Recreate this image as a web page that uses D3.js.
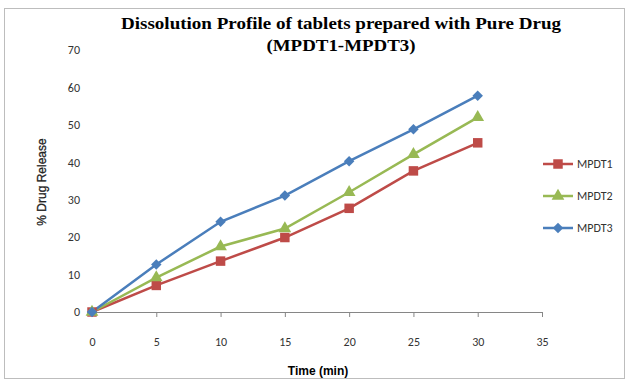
<!DOCTYPE html>
<html><head><meta charset="utf-8">
<script src="https://cdn.jsdelivr.net/npm/d3@7"></script>
<style>body{margin:0;background:#fff}svg{display:block}</style>
</head><body>
<svg id="c" width="629" height="384"></svg>
<script>
const times = [0, 5, 10, 15, 20, 25, 30];
const mpdt1 = [0, 7.1, 13.6, 19.9, 27.7, 37.7, 45.2];
const mpdt2 = [0, 9.2, 17.5, 22.3, 32.0, 42.1, 52.0];
const mpdt3 = [0, 12.7, 24.1, 31.1, 40.3, 48.8, 57.8];
const seriesNames = ["MPDT1", "MPDT2", "MPDT3"];
const seriesColors = ["#BE4B48", "#98B954", "#4A7EBB"];
const xTicks = [0, 5, 10, 15, 20, 25, 30, 35];
const yTicks = [0, 10, 20, 30, 40, 50, 60, 70];
const titleLines = ["Dissolution Profile of tablets prepared with Pure Drug", "(MPDT1-MPDT3)"];

const svg = d3.select("#c");
svg.append("rect").attr("x", 4.5).attr("y", 8.5).attr("width", 620).attr("height", 370)
  .attr("fill", "#fff").attr("stroke", "#bdbdbd");

const x = d3.scaleLinear().domain([0, 35]).range([92, 542]);
const y = d3.scaleLinear().domain([0, 70]).range([312, 50]);

// title
svg.selectAll("text.title").data(titleLines).enter().append("text")
  .attr("x", 341).attr("y", (d, i) => 29 + i * 22)
  .attr("text-anchor", "middle")
  .attr("font-family", "Liberation Serif, Times New Roman, serif")
  .attr("font-weight", "bold").attr("font-size", 17)
  .attr("textLength", (d, i) => i === 0 ? 440 : 149)
  .attr("lengthAdjust", "spacingAndGlyphs")
  .text(d => d);

// x axis
const xa = svg.append("g").attr("transform", "translate(0,312)")
  .call(d3.axisBottom(x).tickValues(xTicks).tickSize(5).tickPadding(20).tickFormat(d3.format("d")));
xa.select(".domain").attr("stroke", "#868686");
xa.selectAll(".tick line").attr("stroke", "#868686");
xa.selectAll("text").attr("font-family", "Carlito, Liberation Sans, sans-serif").attr("font-size", 12).attr("fill", "#333");

// y axis (labels only)
const ya = svg.append("g").attr("transform", "translate(80,0)")
  .call(d3.axisLeft(y).tickValues(yTicks).tickSize(0).tickPadding(0));
ya.select(".domain").remove();
ya.selectAll("text").attr("font-family", "Carlito, Liberation Sans, sans-serif").attr("font-size", 12).attr("fill", "#333");

// axis titles
svg.append("text").attr("x", 318).attr("y", 375).attr("text-anchor", "middle")
  .attr("font-family", "Liberation Sans, Arial, sans-serif").attr("font-weight", "bold").attr("font-size", 12)
  .text("Time (min)");
svg.append("text").attr("transform", "translate(46,182) rotate(-90)").attr("text-anchor", "middle")
  .attr("font-family", "Liberation Sans, Arial, sans-serif").attr("font-size", 12).attr("fill", "#222")
  .attr("stroke", "#222").attr("stroke-width", 0.3)
  .text("% Drug Release");

const dataSets = [mpdt1, mpdt2, mpdt3];
const symbols = [d3.symbolSquare, d3.symbolTriangle, d3.symbolSquare];
const sizes = [90, 70, 55];
const rot = [0, 0, 45];
const line = d3.line().x((d, i) => x(times[i])).y(d => y(d));

dataSets.forEach((vals, s) => {
  svg.append("path").datum(vals).attr("d", line).attr("fill", "none")
    .attr("stroke", seriesColors[s]).attr("stroke-width", 2.5);
});
dataSets.forEach((vals, s) => {
  svg.selectAll(null).data(vals).enter().append("path")
    .attr("d", d3.symbol().type(symbols[s]).size(sizes[s]))
    .attr("transform", (d, i) => `translate(${x(times[i])},${y(d)}) rotate(${rot[s]})`)
    .attr("fill", seriesColors[s]);
});

// legend
const leg = svg.append("g");
seriesNames.forEach((n, i) => {
  const ly = 164 + i * 32;
  leg.append("line").attr("x1", 543).attr("x2", 573).attr("y1", ly).attr("y2", ly)
    .attr("stroke", seriesColors[i]).attr("stroke-width", 2.5);
  leg.append("path").attr("d", d3.symbol().type(symbols[i]).size(sizes[i]))
    .attr("transform", `translate(558,${ly}) rotate(${rot[i]})`).attr("fill", seriesColors[i]);
  leg.append("text").attr("x", 577).attr("y", ly + 4)
    .attr("font-family", "Carlito, Liberation Sans, sans-serif").attr("font-size", 12).attr("fill", "#333")
    .text(n);
});
</script>
</body></html>
